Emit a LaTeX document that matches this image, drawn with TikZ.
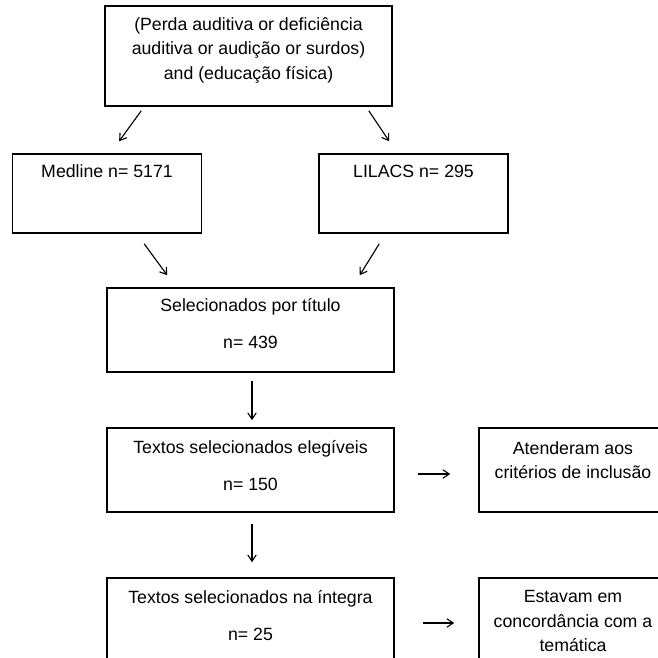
\documentclass[tikz,border=0pt]{standalone}
\usepackage{fontspec}
\setmainfont{Liberation Sans}
\usepackage{xcolor}
\usepackage{tikz}
\usetikzlibrary{arrows.meta}
\usetikzlibrary{calc}
\tikzset{%
  base/.style = {rectangle, draw=black, line width=1.1pt, inner sep=0pt},
  wide/.style = {minimum width=287*0.025cm, minimum height=84*0.025cm},
  narrow/.style = {minimum width=189*0.025cm, minimum height=79*0.025cm},
  txt/.style = {align=center, inner sep=0pt, font=\fontsize{12.6}{17.4}\selectfont},
  arr/.style = {-{Straight Barb[length=4.5pt,width=6pt]}, line width=0.8pt}
}

\begin{document}
\begin{tikzpicture}[%
    x=0.025cm, y=-0.025cm]

  \useasboundingbox (0,0) rectangle (658,658);
  \clip (0,0) rectangle (658,658);

  % Specification of boxes (position, etc.)
  \node (busca) [base, wide, minimum height=100*0.025cm] at (248.5,56) {};
  \node (medline) [base, narrow] at (107,193.5) {};
  \node (lilacs) [base, narrow] at (413.5,193.5) {};
  \node (titulo) [base, wide] at (250.5,330) {};
  \node (elegiveis) [base, wide] at (250.5,470) {};
  \node (inclusao) [base, wide, minimum width=188*0.025cm] at (573,470) {};
  \node (integra) [base, wide] at (250.5,620) {};
  \node (tematica) [base, wide, minimum width=188*0.025cm] at (573,620) {};

  % Texts of the boxes
  \node (busca-txt) [txt] at (248.5,50) {(Perda auditiva or deficiência\\auditiva or audição or surdos)\\and (educação física)};
  \node (medline-txt) [txt] at (107,171) {Medline n= 5171};
  \node (lilacs-txt) [txt] at (413.5,171) {LILACS n= 295};
  \node (titulo-txt) [txt] at (250.5,323.5) {Selecionados por título\\[9pt]n= 439};
  \node (elegiveis-txt) [txt] at (250.5,465.5) {Textos selecionados elegíveis\\[9pt]n= 150};
  \node (inclusao-txt) [txt] at (573,460) {Atenderam aos\\critérios de inclusão};
  \node (integra-txt) [txt] at (250.5,615.5) {Textos selecionados na íntegra\\[9pt]n= 25};
  \node (tematica-txt) [txt] at (573,621) {Estavam em\\concordância com a\\temática};

  \draw[arr] ([shift={(37,4)}]busca.south west) -- ([shift={(107.4,-12)}]medline.north west);
  \draw[arr] ([shift={(-24,4)}]busca.south east) -- ([shift={(71,-12)}]lilacs.north west);
  \draw[arr] ([shift={(132.4,10)}]medline.south west) -- ([shift={(61,-12)}]titulo.north west);
  \draw[arr] ([shift={(61,10)}]lilacs.south west) -- ([shift={(-35,-12)}]titulo.north east);
  \draw[arr] ([shift={(1.5,8)}]titulo.south) -- ([shift={(1.5,-7)}]elegiveis.north);
  \draw[arr] ([shift={(23,4)}]elegiveis.east) -- ([shift={(-28,4)}]inclusao.west);
  \draw[arr] ([shift={(1.5,11)}]elegiveis.south) -- ([shift={(1.5,-15)}]integra.north);
  \draw[arr] ([shift={(28,3)}]integra.east) -- ([shift={(-24,3)}]tematica.west);
\end{tikzpicture}
\end{document}
